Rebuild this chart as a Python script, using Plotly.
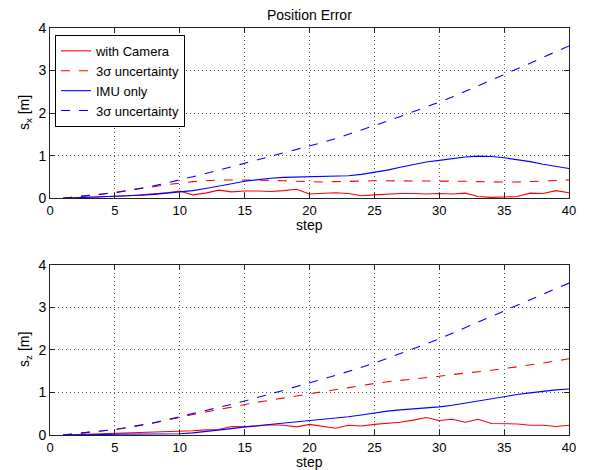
import plotly.graph_objects as go
from plotly.subplots import make_subplots

steps = list(range(1, 41))

# Top: s_x
sx_cam = [0, 0.01, 0.02, 0.03, 0.04, 0.06, 0.08, 0.10, 0.13, 0.17,
          0.08, 0.12, 0.19, 0.15, 0.17, 0.17, 0.16, 0.18, 0.21, 0.10,
          0.11, 0.13, 0.11, 0.06, 0.08, 0.10, 0.11, 0.11, 0.10, 0.11,
          0.10, 0.12, 0.04, 0.02, 0.03, 0.04, 0.12, 0.11, 0.18, 0.13]
sx_cam_3s = [0, 0.03, 0.06, 0.10, 0.14, 0.18, 0.22, 0.27, 0.32, 0.36,
             0.39, 0.41, 0.43, 0.43, 0.43, 0.42, 0.42, 0.41, 0.40, 0.38,
             0.38, 0.39, 0.40, 0.41, 0.41, 0.41, 0.41, 0.41, 0.41, 0.41,
             0.40, 0.40, 0.39, 0.38, 0.38, 0.38, 0.39, 0.40, 0.42, 0.43]
sx_imu = [0, 0.01, 0.02, 0.03, 0.04, 0.05, 0.07, 0.09, 0.12, 0.15,
          0.18, 0.23, 0.28, 0.34, 0.40, 0.44, 0.47, 0.49, 0.50, 0.50,
          0.51, 0.52, 0.53, 0.56, 0.61, 0.66, 0.73, 0.79, 0.85, 0.89,
          0.93, 0.97, 0.99, 0.98, 0.95, 0.91, 0.86, 0.80, 0.75, 0.70]
sx_imu_3s = [0, 0.03, 0.06, 0.09, 0.13, 0.18, 0.23, 0.29, 0.36, 0.43,
             0.50, 0.58, 0.66, 0.74, 0.82, 0.90, 0.98, 1.06, 1.14, 1.22,
             1.31, 1.40, 1.50, 1.60, 1.71, 1.81, 1.92, 2.03, 2.14, 2.26,
             2.38, 2.51, 2.64, 2.77, 2.91, 3.04, 3.17, 3.31, 3.44, 3.58]

# Bottom: s_z
sz_cam = [0, 0.01, 0.02, 0.02, 0.03, 0.04, 0.05, 0.06, 0.08, 0.09,
          0.10, 0.12, 0.13, 0.20, 0.19, 0.21, 0.24, 0.23, 0.19, 0.25,
          0.20, 0.16, 0.23, 0.21, 0.25, 0.27, 0.30, 0.35, 0.41, 0.34,
          0.37, 0.30, 0.37, 0.27, 0.27, 0.26, 0.23, 0.23, 0.20, 0.23]
sz_cam_3s = [0, 0.03, 0.06, 0.09, 0.13, 0.17, 0.22, 0.28, 0.35, 0.42,
             0.48, 0.54, 0.60, 0.66, 0.72, 0.77, 0.82, 0.87, 0.92, 0.97,
             1.02, 1.07, 1.12, 1.16, 1.21, 1.25, 1.28, 1.32, 1.35, 1.38,
             1.42, 1.45, 1.49, 1.52, 1.56, 1.60, 1.65, 1.69, 1.74, 1.79]
sz_imu = [0, 0, 0.01, 0.01, 0.02, 0.02, 0.02, 0.02, 0.02, 0.03,
          0.05, 0.08, 0.11, 0.15, 0.19, 0.22, 0.25, 0.28, 0.30, 0.33,
          0.36, 0.39, 0.43, 0.47, 0.52, 0.56, 0.59, 0.61, 0.63, 0.66,
          0.70, 0.75, 0.80, 0.86, 0.91, 0.95, 0.99, 1.03, 1.06, 1.08]
sz_imu_3s = [0, 0.03, 0.06, 0.09, 0.13, 0.18, 0.23, 0.29, 0.36, 0.43,
             0.50, 0.57, 0.64, 0.72, 0.80, 0.88, 0.97, 1.05, 1.14, 1.22,
             1.31, 1.40, 1.49, 1.59, 1.69, 1.80, 1.91, 2.02, 2.14, 2.26,
             2.39, 2.52, 2.65, 2.78, 2.92, 3.05, 3.18, 3.31, 3.44, 3.57]

x_ticks = [0, 5, 10, 15, 20, 25, 30, 35, 40]
y_ticks = [0, 1, 2, 3, 4]
names = ["with Camera", "3\u03c3 uncertainty", "IMU only", "3\u03c3 uncertainty"]
y_titles = ["s<sub>x</sub> [m]", "s<sub>z</sub> [m]"]
RED = "#ff0000"
BLUE = "#0000ff"
FONT = "Liberation Sans, Arial, sans-serif"
FS = 14

fig = make_subplots(rows=2, cols=1, vertical_spacing=0.1634)

series = [
    (sx_cam, sx_cam_3s, sx_imu, sx_imu_3s, 1),
    (sz_cam, sz_cam_3s, sz_imu, sz_imu_3s, 2),
]
for cam, cam3, imu, imu3, row in series:
    specs = [(cam, RED, "solid", names[0]), (cam3, RED, "dash", names[1]),
             (imu, BLUE, "solid", names[2]), (imu3, BLUE, "dash", names[3])]
    for vals, col, dash, nm in specs:
        fig.add_trace(go.Scatter(x=steps, y=vals, mode="lines", name=nm,
                                 line=dict(color=col, width=1.1, dash=dash),
                                 showlegend=(row == 1)), row=row, col=1)

axis_common = dict(showline=True, linecolor="#222222", linewidth=1, mirror="ticks",
                   ticks="inside", ticklen=5, tickcolor="#222222",
                   showgrid=True, gridcolor="#555555", griddash="1px,3px", gridwidth=1,
                   zeroline=False)

for r in (1, 2):
    fig.update_xaxes(range=[0, 40], tickvals=x_ticks, row=r, col=1,
                     tickfont=dict(family=FONT, size=13, color="black"), **axis_common)
    fig.update_yaxes(range=[0, 4], tickvals=y_ticks, row=r, col=1,
                     tickfont=dict(family=FONT, size=FS, color="black"), **axis_common)

annots = []
for r, (xd, yd) in enumerate([("x domain", "y domain"), ("x2 domain", "y2 domain")]):
    annots.append(dict(text="step", xref=xd, yref=yd, x=0.5, y=0, yshift=-27,
                       xanchor="center", yanchor="middle", showarrow=False,
                       font=dict(family=FONT, size=FS, color="black")))
    annots.append(dict(text=y_titles[r], xref=xd, yref=yd, x=0, y=0.5, xshift=-25,
                       xanchor="center", yanchor="middle", textangle=-90, showarrow=False,
                       font=dict(family=FONT, size=FS, color="black")))
annots.append(dict(text="Position Error", xref="x domain", yref="paper", x=0.5, y=1.0317,
                   xanchor="center", yanchor="middle", showarrow=False,
                   font=dict(family=FONT, size=FS, color="black")))

# The page body keeps an 8px margin, so the figure is sized and offset to fit the window.
fig.update_layout(
    width=586, height=462,
    margin=dict(l=42, r=25, t=17, b=35),
    paper_bgcolor="white", plot_bgcolor="white",
    font=dict(family=FONT, size=FS, color="black"),
    annotations=annots,
    legend=dict(x=0.0096, y=0.983, xanchor="left", yanchor="top",
                bgcolor="white", bordercolor="black", borderwidth=1,
                font=dict(family=FONT, size=13, color="black"),
                tracegroupgap=0, itemwidth=30),
    showlegend=True,
)

fig.write_html("out.html")
